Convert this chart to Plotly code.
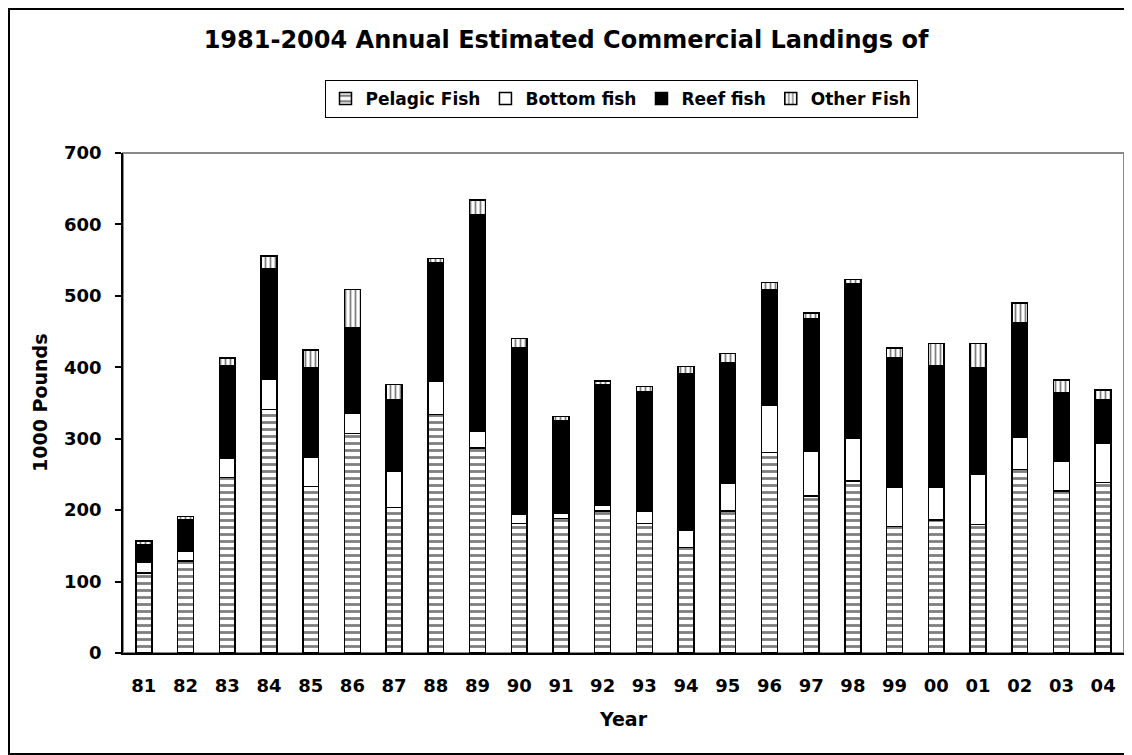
import plotly.graph_objects as go

years = ["81", "82", "83", "84", "85", "86", "87", "88", "89", "90", "91", "92",
         "93", "94", "95", "96", "97", "98", "99", "00", "01", "02", "03", "04"]
pelagic = [112, 129, 246, 341, 233, 307, 204, 334, 287, 181, 188, 199,
           181, 148, 199, 281, 220, 241, 177, 186, 180, 257, 227, 239]
bottom = [15, 14, 26, 42, 41, 28, 50, 46, 24, 13, 7, 8,
          17, 24, 38, 66, 62, 59, 55, 46, 70, 45, 41, 54]
reef = [25, 43, 130, 155, 125, 120, 100, 166, 302, 234, 130, 169,
        168, 219, 169, 161, 186, 217, 182, 170, 150, 161, 96, 61]
other = [5, 5, 11, 18, 25, 54, 22, 6, 21, 12, 6, 5,
         7, 10, 13, 11, 8, 6, 13, 31, 33, 27, 18, 14]

FONT = "DejaVu Sans"
OFF = 8                      # page body margin
W, H = 1132 - OFF, 755 - OFF
# plot area in screen pixels: x 123..1124, y 153..653
L = 123 - OFF
T = 153 - OFF
R = W - (1124 - OFF)
B = H - (653 - OFF)
PW, PH = W - L - R, H - T - B

def px2x(sx):
    return (sx - OFF - L) / PW

def py2y(sy):
    return (H - B - (sy - OFF)) / PH

line = dict(color="black", width=1.5)
fig = go.Figure()
fig.add_trace(go.Bar(x=years, y=pelagic, name="Pelagic Fish",
                     marker=dict(color="white", line=line,
                                 pattern=dict(shape="-", size=7, solidity=0.4,
                                              fgcolor="black", bgcolor="white"))))
fig.add_trace(go.Bar(x=years, y=bottom, name="Bottom fish",
                     marker=dict(color="white", line=line)))
fig.add_trace(go.Bar(x=years, y=reef, name="Reef fish",
                     marker=dict(color="black", line=line)))
fig.add_trace(go.Bar(x=years, y=other, name="Other Fish",
                     marker=dict(color="white", line=line,
                                 pattern=dict(shape="|", size=5, solidity=0.35,
                                              fgcolor="black", bgcolor="white"))))

fig.update_layout(
    barmode="stack", bargap=0.62,
    width=W, height=H,
    margin=dict(l=L, r=R, t=T, b=B, autoexpand=False),
    paper_bgcolor="white", plot_bgcolor="white",
    font=dict(family=FONT, color="black", weight="bold"),
    title=dict(text="1981-2004 Annual Estimated Commercial Landings of",
               x=(566 - OFF) / W, xref="container", xanchor="center",
               y=1 - (40 - OFF) / H, yref="container", yanchor="middle",
               font=dict(family=FONT, size=24, color="black", weight="bold")),
    legend=dict(orientation="h", x=px2x(621), xanchor="center", y=py2y(80), yanchor="top",
                bordercolor="black", borderwidth=1, bgcolor="white",
                font=dict(family=FONT, size=17, color="black", weight="bold"),
                traceorder="normal", itemwidth=30),
    xaxis=dict(type="category", showline=True, linecolor="black", linewidth=1.5,
               ticks="", showgrid=False, tickfont=dict(size=18, weight="bold"),
               ticklabelstandoff=16,
               title=dict(text="Year", font=dict(size=19, weight="bold"), standoff=17)),
    yaxis=dict(range=[0, 700], dtick=100, showline=True, linecolor="black", linewidth=1.5,
               ticks="outside", ticklen=6, tickcolor="black", tickwidth=1.5,
               showgrid=False, zeroline=False, tickfont=dict(size=18, weight="bold"),
               ticklabelstandoff=10),
    shapes=[
        dict(type="rect", xref="paper", yref="paper", x0=0, x1=1, y0=0, y1=1,
             line=dict(color="#888888", width=2), layer="below"),
        dict(type="rect", xref="paper", yref="paper",
             x0=(1 - L) / PW, x1=(W - 1 - L) / PW,
             y0=(H - B - (H - 1)) / PH, y1=(H - B - 1) / PH,
             line=dict(color="black", width=2)),
    ],
    annotations=[
        dict(text="1000 Pounds", xref="paper", yref="paper", x=px2x(40), y=0.5,
             textangle=-90, showarrow=False, xanchor="center", yanchor="middle",
             font=dict(family=FONT, size=19, color="black", weight="bold")),
    ],
)

fig.write_html("out.html")
